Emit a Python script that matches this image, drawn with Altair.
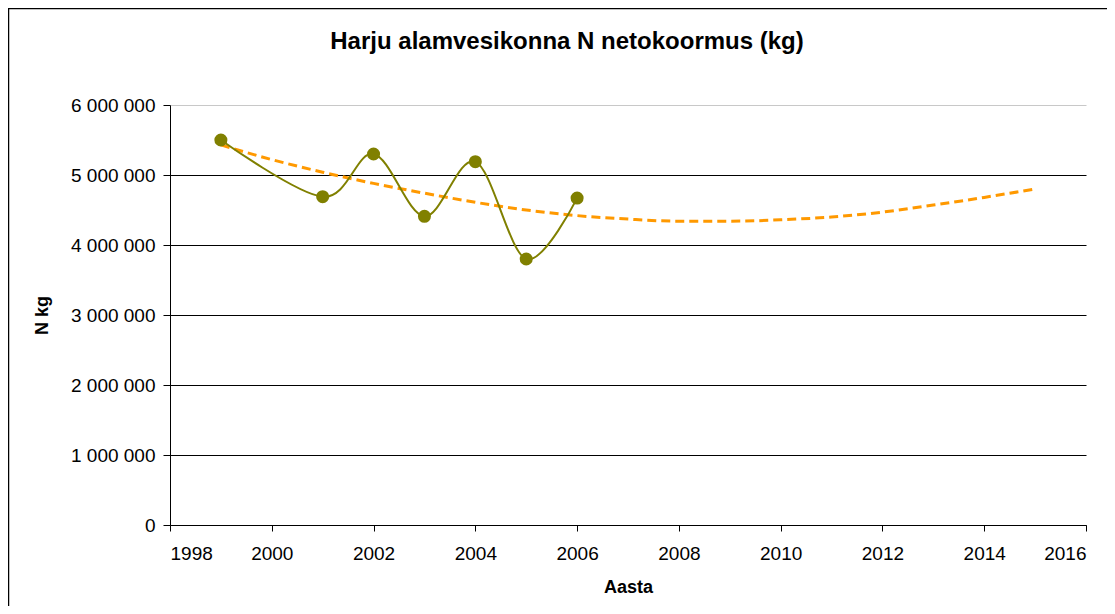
import altair as alt
import pandas as pd

# ---- data ----
years = [1999, 2001, 2002, 2003, 2004, 2005, 2006]
load_kg = [5500000, 4690000, 5300000, 4410000, 5190000, 3800000, 4670000]

trend_years = [1999, 2000, 2001, 2002, 2003, 2004, 2005, 2006, 2007,
               2008, 2009, 2010, 2011, 2012, 2013, 2014, 2015]
trend_kg = [5430000, 5220000, 5040000, 4880000, 4740000, 4610000, 4500000,
            4420000, 4370000, 4340000, 4340000, 4360000, 4400000, 4470000,
            4570000, 4680000, 4800000]

x_ticks = [1998, 2000, 2002, 2004, 2006, 2008, 2010, 2012, 2014, 2016]
y_ticks = [0, 1000000, 2000000, 3000000, 4000000, 5000000, 6000000]

title_text = "Harju alamvesikonna N netokoormus (kg)"
x_title = "Aasta"
y_title = "N kg"

FONT = "Liberation Sans"
W, H = 916, 420

obs = pd.DataFrame({"year": years, "kg": load_kg})
trend = pd.DataFrame({"year": trend_years, "kg": trend_kg})

x_enc = alt.X(
    "year:Q",
    scale=alt.Scale(domain=[1998, 2016], nice=False, zero=False),
    axis=alt.Axis(
        values=x_ticks, format="d", title=x_title, grid=False,
        tickSize=6, tickColor="black", domainColor="black",
        labelFont=FONT, labelFontSize=19, labelColor="black", labelPadding=13,
        titleFont=FONT, titleFontSize=18, titleFontWeight="bold", titleColor="black",
        titleX=W / 2, titleY=62, titleAlign="center", titleBaseline="middle",
    ),
)
y_enc = alt.Y(
    "kg:Q",
    scale=alt.Scale(domain=[0, 6000000], nice=False),
    axis=alt.Axis(
        values=y_ticks, title=y_title,
        labelExpr="replace(format(datum.value, ','), /,/g, ' ')",
        grid=True,
        gridColor={"condition": {"test": "datum.value === 6000000", "value": "#c8c8c8"},
                   "value": "#000000"},
        gridWidth=1,
        tickSize=7, tickColor="black", domainColor="black",
        labelFont=FONT, labelFontSize=19, labelColor="black", labelPadding=8,
        titleFont=FONT, titleFontSize=18, titleFontWeight="bold", titleColor="black",
        titleX=-128, titleY=H / 2, titleAlign="center", titleBaseline="middle",
        titleAngle=270,
    ),
)

trend_layer = alt.Chart(trend).mark_line(
    color="#FF9900", strokeWidth=3, strokeDash=[9, 5], interpolate="monotone"
).encode(x=x_enc, y=y_enc)

line_layer = alt.Chart(obs).mark_line(
    color="#808000", strokeWidth=2, interpolate="cardinal", tension=0
).encode(x="year:Q", y="kg:Q")

point_layer = alt.Chart(obs).mark_circle(
    color="#808000", size=170, opacity=1
).encode(x="year:Q", y="kg:Q")

border = alt.Chart(alt.Data(values=[{"a": 1}])).mark_rect(
    filled=False, stroke="black", strokeWidth=1.5
).encode(
    x=alt.value(-161.5), x2=alt.value(960),
    y=alt.value(-96.5), y2=alt.value(530),
)

title_layer = alt.Chart(alt.Data(values=[{"t": title_text}])).mark_text(
    font=FONT, fontSize=24, fontWeight="bold", color="black",
    align="center", baseline="alphabetic",
).encode(text="t:N", x=alt.value(397), y=alt.value(-56))

chart = alt.layer(border, trend_layer, line_layer, point_layer, title_layer).properties(
    width=W, height=H,
    autosize=alt.AutoSizeParams(type="none"),
    padding={"left": 162, "top": 97, "right": 21, "bottom": 81},
).configure_view(stroke=None)

chart.save("out.html", embed_options={"renderer": "svg", "actions": False})
